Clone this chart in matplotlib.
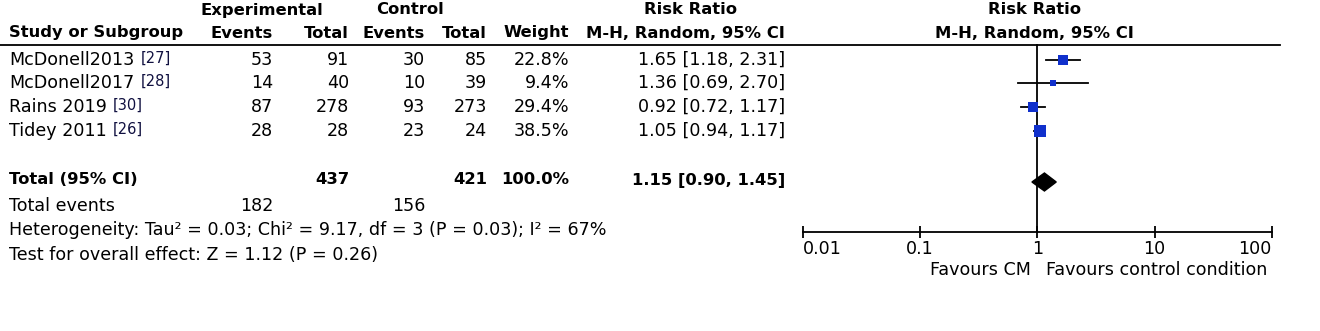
import numpy as np
import matplotlib
matplotlib.use("Agg")
import matplotlib.pyplot as plt

# study data
studies = ["McDonell2013", "McDonell2017", "Rains 2019", "Tidey 2011"]
refs = ["[27]", "[28]", "[30]", "[26]"]
exp_events = [53, 14, 87, 28]
exp_total = [91, 40, 278, 28]
ctl_events = [30, 10, 93, 23]
ctl_total = [85, 39, 273, 24]
weights = [22.8, 9.4, 29.4, 38.5]
rr = [1.65, 1.36, 0.92, 1.05]
rr_lo = [1.18, 0.69, 0.72, 0.94]
rr_hi = [2.31, 2.70, 1.17, 1.17]

total_rr, total_lo, total_hi = 1.15, 0.90, 1.45
total_exp, total_ctl = 437, 421
events_exp, events_ctl = 182, 156

axis_ticks = [0.01, 0.1, 1, 10, 100]
axis_labels = ["0.01", "0.1", "1", "10", "100"]

W, H = 1320, 331
FS = 12.6     # regular text
FSB = 11.8    # bold text
fig = plt.figure(figsize=(W / 100, H / 100), dpi=100)
ax = fig.add_axes([0, 0, 1, 1])
ax.set_xlim(0, W)
ax.set_ylim(H, 0)
ax.axis("off")

def t(x, y, s, ha="left", bold=False, color="black"):
    ax.text(x, y, s, ha=ha, va="center", fontsize=FSB if bold else FS,
            fontweight="bold" if bold else "normal", color=color)

# headers
t(262, 10, "Experimental", ha="center", bold=True)
t(410, 10, "Control", ha="center", bold=True)
t(690, 10, "Risk Ratio", ha="center", bold=True)
t(1034, 10, "Risk Ratio", ha="center", bold=True)
t(9, 33, "Study or Subgroup", bold=True)
t(273, 33, "Events", ha="right", bold=True)
t(349, 33, "Total", ha="right", bold=True)
t(425, 33, "Events", ha="right", bold=True)
t(487, 33, "Total", ha="right", bold=True)
t(569, 33, "Weight", ha="right", bold=True)
t(785, 33, "M-H, Random, 95% CI", ha="right", bold=True)
t(1034, 33, "M-H, Random, 95% CI", ha="center", bold=True)
ax.plot([0, 1280], [45, 45], color="black", lw=1.3)

row_y = [60, 83, 107, 131]
fig.canvas.draw()
for i, y in enumerate(row_y):
    name = ax.text(9, y, studies[i], ha="left", va="center", fontsize=FS)
    bb = name.get_window_extent(renderer=fig.canvas.get_renderer())
    ax.text(bb.x1 + 6, y - 2, refs[i], ha="left", va="center", fontsize=10.5,
            color="#101040")
    t(273, y, str(exp_events[i]), ha="right")
    t(349, y, str(exp_total[i]), ha="right")
    t(425, y, str(ctl_events[i]), ha="right")
    t(487, y, str(ctl_total[i]), ha="right")
    t(569, y, f"{weights[i]:.1f}%", ha="right")
    t(785, y, f"{rr[i]:.2f} [{rr_lo[i]:.2f}, {rr_hi[i]:.2f}]", ha="right")

ty = 180
t(9, ty, "Total (95% CI)", bold=True)
t(349, ty, str(total_exp), ha="right", bold=True)
t(487, ty, str(total_ctl), ha="right", bold=True)
t(569, ty, "100.0%", ha="right", bold=True)
t(785, ty, f"{total_rr:.2f} [{total_lo:.2f}, {total_hi:.2f}]", ha="right", bold=True)

t(9, 206, "Total events")
t(273, 206, str(events_exp), ha="right")
t(425, 206, str(events_ctl), ha="right")
t(9, 230, "Heterogeneity: Tau² = 0.03; Chi² = 9.17, df = 3 (P = 0.03); I² = 67%")
t(9, 255, "Test for overall effect: Z = 1.12 (P = 0.26)")

# forest panel
x0, x1 = 802.6, 1272.0
fax = fig.add_axes([x0 / W, 0, (x1 - x0) / W, 1])
fax.set_xscale("log")
fax.set_xlim(0.01, 100)
fax.set_ylim(H, 0)
fax.patch.set_alpha(0)
for s in ["top", "left", "right"]:
    fax.spines[s].set_visible(False)
fax.spines["bottom"].set_position(("data", 232))
fax.spines["bottom"].set_linewidth(1.3)
fax.set_yticks([])
fax.set_xticks(axis_ticks)
fax.set_xticklabels(axis_labels, fontsize=FS)
fax.minorticks_off()
fax.tick_params(axis="x", direction="inout", length=9, width=1.3, pad=1)
labs = fax.get_xticklabels()
labs[0].set_ha("left")
labs[-1].set_ha("right")

fax.plot([1, 1], [45, 232], color="black", lw=1.3)
for i, y in enumerate(row_y):
    fax.plot([rr_lo[i], rr_hi[i]], [y, y], color="black", lw=1.3)
    side = 1.9 * np.sqrt(weights[i])
    fax.plot(rr[i], y, marker="s", ms=side * 0.72, color="#1030cc", mec="#1030cc", mew=0)

dy = 9
dc = 182
fax.fill([total_lo, total_rr, total_hi, total_rr],
         [dc, dc - dy, dc, dc + dy], color="black")

fax.text(0.885, 270, "Favours CM", ha="right", va="center", fontsize=FS)
fax.text(1.185, 270, "Favours control condition", ha="left", va="center", fontsize=FS)

fig.savefig("out.png", dpi=100)
